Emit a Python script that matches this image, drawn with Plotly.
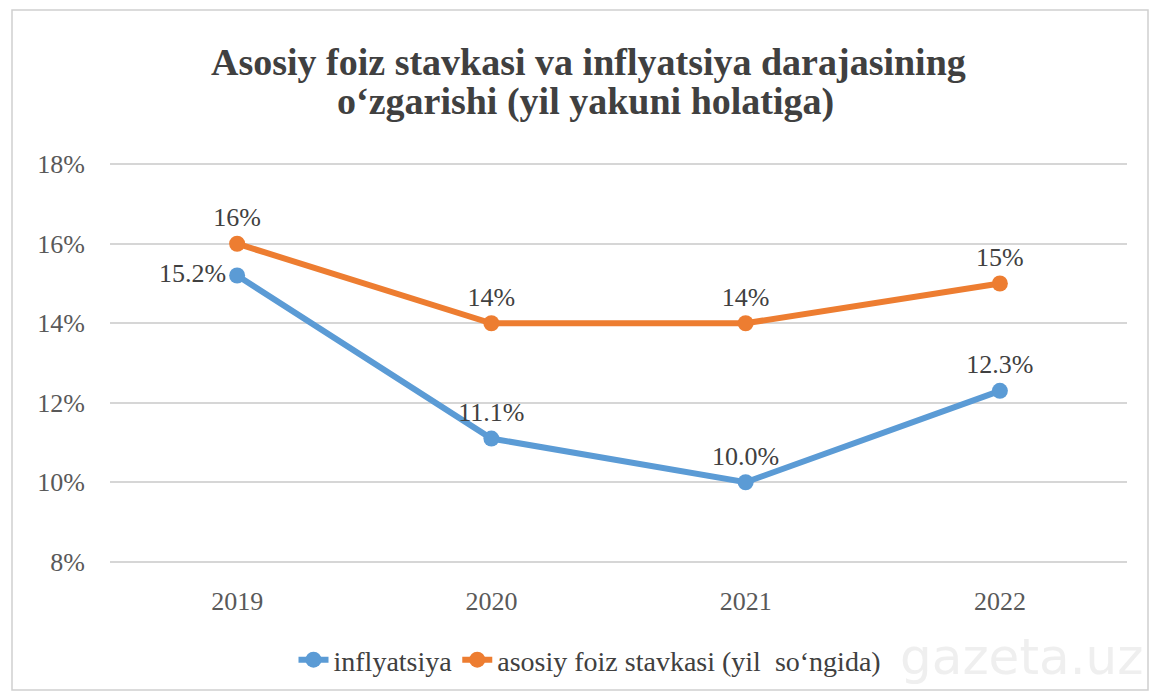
import plotly.graph_objects as go

years = ["2019", "2020", "2021", "2022"]
inflation = [15.2, 11.1, 10.0, 12.3]
policy_rate = [16, 14, 14, 15]
inflation_labels = ["15.2%", "11.1%", "10.0%", "12.3%"]
rate_labels = ["16%", "14%", "14%", "15%"]
y_ticks = [8, 10, 12, 14, 16, 18]
y_tick_labels = ["8%", "10%", "12%", "14%", "16%", "18%"]
title_lines = ["Asosiy foiz stavkasi va inflyatsiya darajasining",
               "o\u2018zgarishi (yil yakuni holatiga)"]

W, H = 1155, 697
ml, mr, mt, mb = 110, 28, 163, 134
pw, ph = W - ml - mr, H - mt - mb

def px(x):
    return (x - ml) / pw

def py(y):
    return 1 - (y - mt) / ph

serif = "Liberation Serif, Times New Roman, serif"
blue = "#5B9BD5"
orange = "#ED7D31"
fs = 26

inf_pos = ["middle left", "top center", "top center", "top center"]
rate_pos = ["top center"] * 4

fig = go.Figure()
fig.add_trace(go.Scatter(
    x=years, y=inflation, name="inflyatsiya", mode="lines+markers+text",
    line=dict(color=blue, width=6), marker=dict(size=16, color=blue),
    text=inflation_labels, textposition=inf_pos,
    textfont=dict(family=serif, size=fs, color="#404040"),
    cliponaxis=False,
))
fig.add_trace(go.Scatter(
    x=years, y=policy_rate, name="asosiy foiz stavkasi (yil  so\u2018ngida)",
    mode="lines+markers+text",
    line=dict(color=orange, width=6), marker=dict(size=16, color=orange),
    text=rate_labels, textposition=rate_pos,
    textfont=dict(family=serif, size=fs, color="#404040"),
    cliponaxis=False,
))

annotations = [
    dict(text="<b>" + title_lines[0] + "</b>", xref="paper", yref="paper",
         x=px(588), y=py(62), xanchor="center", yanchor="middle", showarrow=False,
         font=dict(family=serif, size=38, color="#404040")),
    dict(text="<b>" + title_lines[1] + "</b>", xref="paper", yref="paper",
         x=px(585), y=py(102), xanchor="center", yanchor="middle", showarrow=False,
         font=dict(family=serif, size=38, color="#404040")),
    dict(text="gazeta.uz", xref="paper", yref="paper",
         x=px(1145), y=py(657), xanchor="right", yanchor="middle",
         showarrow=False,
         font=dict(family="DejaVu Sans, sans-serif", size=50, color="rgba(190,190,190,0.25)")),
]

fig.update_layout(
    width=W, height=H,
    margin=dict(l=ml, r=mr, t=mt, b=mb),
    paper_bgcolor="white", plot_bgcolor="white",
    font=dict(family=serif, color="#595959"),
    xaxis=dict(
        type="category", showgrid=False, showline=False, ticks="",
        tickfont=dict(family=serif, size=fs, color="#595959"),
        range=[-0.5, 3.5], ticklabelstandoff=20,
    ),
    yaxis=dict(
        range=[7.97, 18.03], tickvals=y_ticks, ticktext=y_tick_labels,
        showgrid=True, gridcolor="#D6D6D6", gridwidth=2,
        zeroline=False, showline=False, ticks="",
        tickfont=dict(family=serif, size=fs, color="#595959"),
        ticklabelstandoff=24,
    ),
    showlegend=True,
    legend=dict(
        orientation="h", x=px(590), xanchor="center", y=py(660), yanchor="middle",
        font=dict(family=serif, size=28, color="#404040"),
        traceorder="normal", bgcolor="rgba(0,0,0,0)",
    ),
    shapes=[dict(
        type="rect", xref="paper", yref="paper",
        x0=px(12), x1=px(1148), y0=py(690), y1=py(10),
        line=dict(color="#D0D0D0", width=1.5), layer="below",
    )],
    annotations=annotations,
)

fig.write_html("out.html")
